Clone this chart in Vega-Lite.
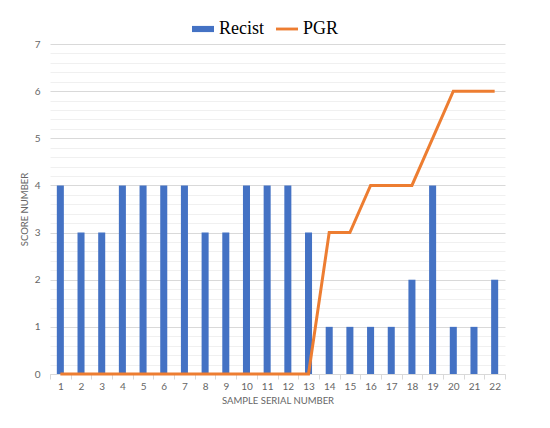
{
  "$schema": "https://vega.github.io/schema/vega-lite/v6.json",
  "autosize": "none",
  "width": 455,
  "height": 330,
  "padding": {"left": 50, "top": 44, "right": 45, "bottom": 54},
  "background": "white",
  "config": {
    "view": {"stroke": null},
    "font": "Lato",
    "axis": {"labelFont": "Lato", "titleFont": "Lato", "labelColor": "#666666", "titleColor": "#666666", "labelFontSize": 10, "titleFontSize": 9.5, "titleFontWeight": "normal"}
  },
  "data": {
    "values": [
      {"sample": 1, "Recist": 4, "PGR": 0},
      {"sample": 2, "Recist": 3, "PGR": 0},
      {"sample": 3, "Recist": 3, "PGR": 0},
      {"sample": 4, "Recist": 4, "PGR": 0},
      {"sample": 5, "Recist": 4, "PGR": 0},
      {"sample": 6, "Recist": 4, "PGR": 0},
      {"sample": 7, "Recist": 4, "PGR": 0},
      {"sample": 8, "Recist": 3, "PGR": 0},
      {"sample": 9, "Recist": 3, "PGR": 0},
      {"sample": 10, "Recist": 4, "PGR": 0},
      {"sample": 11, "Recist": 4, "PGR": 0},
      {"sample": 12, "Recist": 4, "PGR": 0},
      {"sample": 13, "Recist": 3, "PGR": 0},
      {"sample": 14, "Recist": 1, "PGR": 3},
      {"sample": 15, "Recist": 1, "PGR": 3},
      {"sample": 16, "Recist": 1, "PGR": 4},
      {"sample": 17, "Recist": 1, "PGR": 4},
      {"sample": 18, "Recist": 2, "PGR": 4},
      {"sample": 19, "Recist": 4, "PGR": 5},
      {"sample": 20, "Recist": 1, "PGR": 6},
      {"sample": 21, "Recist": 1, "PGR": 6},
      {"sample": 22, "Recist": 2, "PGR": 6}
    ]
  },
  "encoding": {
    "x": {
      "field": "sample",
      "type": "ordinal",
      "scale": {"paddingInner": 0, "paddingOuter": 0},
      "axis": {
        "title": "SAMPLE SERIAL NUMBER",
        "labelAngle": 0,
        "tickBand": "extent",
        "ticks": true,
        "tickSize": 5,
        "tickColor": "#d9d9d9",
        "domainColor": "#d9d9d9",
        "labelPadding": 2,
        "titlePadding": 4
      }
    }
  },
  "resolve": {"axis": {"y": "independent"}},
  "layer": [
    {
      "mark": {"type": "bar", "width": {"band": 0.34}},
      "encoding": {
        "y": {
          "field": "Recist",
          "type": "quantitative",
          "scale": {"domain": [0, 7], "nice": false},
          "axis": {
            "title": "SCORE NUMBER",
            "values": [0,0.2,0.4,0.6,0.8,1,1.2,1.4,1.6,1.8,2,2.2,2.4,2.6,2.8,3,3.2,3.4,3.6,3.8,4,4.2,4.4,4.6,4.8,5,5.2,5.4,5.6,5.8,6,6.2,6.4,6.6,6.8,7],
            "labelExpr": "abs(datum.value - round(datum.value)) < 0.001 ? format(datum.value, 'd') : ''",
            "labelOverlap": false,
            "ticks": false,
            "domain": false,
            "grid": true,
            "gridColor": {"condition": {"test": "abs(datum.value - round(datum.value)) < 0.001", "value": "#d9d9d9"}, "value": "#f0f0f0"},
            "labelPadding": 10,
            "titlePadding": 5
          }
        },
        "color": {
          "datum": "Recist",
          "type": "nominal",
          "scale": {"domain": ["Recist", "PGR"], "range": ["#4472C4", "#ED7D31"]},
          "legend": {
            "title": null,
            "orient": "none",
            "direction": "horizontal",
            "legendX": 142,
            "legendY": -26,
            "labelFont": "Liberation Serif",
            "labelFontSize": 18,
            "labelColor": "#000000",
            "labelOffset": 5,
            "columnPadding": 12,
            "symbolSize": 484,
            "encode": {
              "symbols": {
                "update": {
                  "shape": {"signal": "datum.value === 'Recist' ? 'M-1,-0.28H1V0.28H-1Z' : 'M-1,-0.13H1V0.13H-1Z'"},
                  "fill": {"signal": "datum.value === 'Recist' ? '#4472C4' : '#ED7D31'"},
                  "stroke": {"value": "transparent"},
                  "strokeWidth": {"value": 0}
                }
              }
            }
          }
        }
      }
    },
    {
      "mark": {"type": "line", "strokeWidth": 3},
      "encoding": {
        "y": {"field": "PGR", "type": "quantitative", "axis": null},
        "color": {"datum": "PGR", "type": "nominal"}
      }
    }
  ]
}
